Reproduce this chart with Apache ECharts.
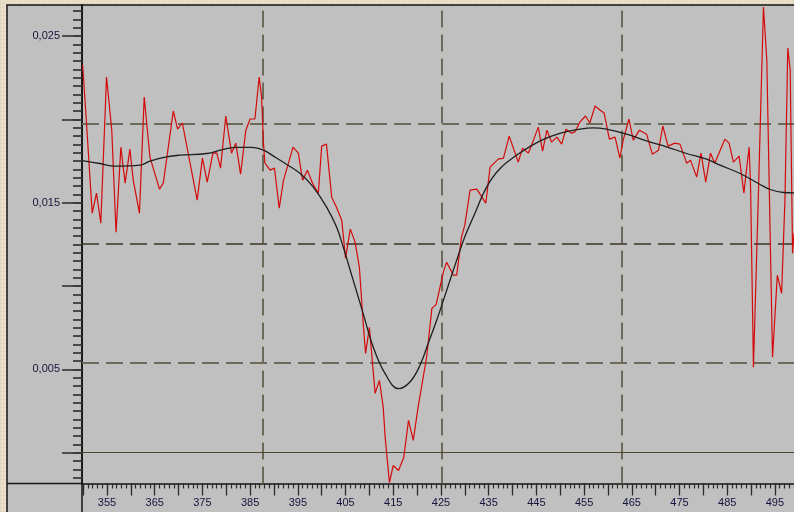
<!DOCTYPE html>
<html>
<head>
<meta charset="utf-8">
<script src="https://cdn.jsdelivr.net/npm/echarts@6/dist/echarts.min.js"></script>
<style>
html,body{margin:0;padding:0;width:794px;height:512px;overflow:hidden;
background-color:#ebe1cc;
background-image:repeating-linear-gradient(90deg,rgba(160,140,100,0.10) 0 1px,transparent 1px 3px),repeating-linear-gradient(0deg,rgba(160,140,100,0.08) 0 1px,transparent 1px 4px);}
#c{position:absolute;left:0;top:0;width:794px;height:512px;}
</style>
</head>
<body>
<div id="c"></div>
<script>
// Wavelength (nm) of the measured (red) spectrum
const redWl = [349.9,350.7,351.9,352.8,353.7,354.9,356.0,356.9,357.9,358.8,
359.8,360.5,361.8,362.8,364.0,366.0,366.8,368.9,369.8,370.8,
373.9,375.0,376.0,377.2,378.0,378.8,379.9,381.1,382.0,383.0,
384.1,385.0,386.0,386.9,387.4,387.8,388.1,389.2,390.1,391.1,
392.0,394.0,395.1,396.0,397.0,398.1,399.3,400.0,401.0,402.1,
403.1,404.2,405.0,406.0,407.0,407.9,408.7,409.2,410.0,411.2,
412.1,412.9,413.3,414.2,415.0,416.1,417.2,418.2,419.2,420.2,
422.0,423.1,424.0,425.5,426.2,427.6,428.3,429.3,430.0,431.1,
432.5,434.4,435.3,437.0,438.1,439.3,441.2,442.1,443.3,444.4,
445.4,446.3,447.2,448.2,449.3,450.3,451.2,452.4,453.1,454.1,
455.3,456.2,457.3,458.3,459.2,460.3,461.5,462.5,463.2,464.4,
465.3,466.6,468.1,469.3,470.6,471.5,472.6,474.0,475.1,476.5,
477.3,478.6,479.5,480.5,481.5,482.4,484.5,485.4,486.3,487.5,
488.5,489.1,489.6,489.9,490.5,491.5,492.6,493.3,494.0,494.5,
495.5,496.4,497.1,497.7,498.2,498.7,499.0];
const redVals = [0.02326,0.01978,0.01437,0.01557,0.01377,0.02254,0.01935,0.01323,0.01833,0.01617,
0.01821,0.01635,0.01437,0.02134,0.01773,0.01581,0.01617,0.0205,0.01941,0.01978,
0.01515,0.01767,0.01623,0.01797,0.01799,0.01707,0.0202,0.01797,0.01857,0.01671,
0.01935,0.02002,0.02002,0.02254,0.02134,0.01857,0.01737,0.01695,0.01707,0.01467,
0.01635,0.01833,0.01797,0.01635,0.01695,0.01615,0.01557,0.01839,0.01851,0.01533,
0.01473,0.01395,0.01167,0.01341,0.01263,0.01113,0.00776,0.00596,0.00752,0.00356,
0.00434,0.00272,0.00093,-0.00179,-0.00077,-0.00107,-0.00029,0.00194,0.00074,0.00272,
0.00574,0.00866,0.0089,0.01083,0.01143,0.01065,0.01065,0.01293,0.01365,0.01575,
0.01581,0.01497,0.01713,0.01761,0.01767,0.01899,0.01743,0.01827,0.01797,0.01875,
0.01953,0.01809,0.01935,0.01863,0.01893,0.01851,0.01941,0.01917,0.01925,0.01983,
0.0202,0.01978,0.0208,0.02056,0.02038,0.01881,0.01893,0.01767,0.01875,0.02002,
0.01875,0.01935,0.01911,0.01791,0.01815,0.0196,0.01839,0.01857,0.01851,0.01737,
0.01755,0.01653,0.01797,0.01623,0.01797,0.01737,0.01881,0.01857,0.01743,0.01779,
0.01557,0.01713,0.01833,0.01593,0.00512,0.01515,0.02674,0.02356,0.01317,0.00572,
0.01065,0.00956,0.01515,0.02428,0.02296,0.01197,0.01317];

// Smoothed (black) curve
const blackWl = [349.8,353.5,356.7,361.9,364.0,367.5,370.3,375.9,379.4,382.2,
385.3,387.8,389.9,392.7,395.5,398.2,401.0,403.1,404.5,406.6,
408.7,410.8,413.3,416.1,418.5,420.6,422.3,424.1,426.2,428.3,
430.0,431.8,434.6,437.4,441.6,445.8,449.9,454.1,456.9,459.7,
463.9,468.1,472.3,476.5,480.7,483.5,487.7,491.9,494.0,496.8,499.0];
const blackVals = [0.01752,0.01735,0.01719,0.01725,0.01749,0.01775,0.01785,0.01795,0.0182,0.01832,
0.01832,0.01815,0.01779,0.01729,0.01675,0.01595,0.01475,0.01355,0.01235,0.01035,
0.00834,0.00634,0.00474,0.00384,0.00424,0.00524,0.00654,0.00794,0.00974,0.01155,
0.01295,0.01415,0.01595,0.01705,0.01799,0.01871,0.01916,0.01941,0.01949,0.01941,
0.01911,0.01871,0.01835,0.01795,0.01761,0.01725,0.01675,0.01609,0.01579,0.01561,0.01559];

// Axis labels / ticks
const xLabels = [355,365,375,385,395,405,415,425,435,445,455,465,475,485,495];
const yLabels = [0.005,0.015,0.025];
// Reference grid lines of the instrument display
const vGrid = [387.6,425.2,463.0];
const hGridDashed = [0.01971,0.01255,0.00538];
const hGridSolid = [0];

const xMin = 349.76, xMax = 499.0, yMin = -0.00185, yMax = 0.02686;

const xMajorTicks = []; for (let v = 350; v <= 495; v += 5) xMajorTicks.push(v);
const xMinorTicks = []; for (let v = 350; v <= 499; v += 1) xMinorTicks.push(v);
const yMajorTicks = []; for (let i = 0; i <= 5; i++) yMajorTicks.push(+(i*0.005).toFixed(4));
const yMinorTicks = []; for (let i = -3; i <= 53; i++) yMinorTicks.push(+(i*0.0005).toFixed(5));

const chart = echarts.init(document.getElementById('c'), null, {renderer:'canvas'});
const tickCol = '#2a2a2a';
const labelFont = {fontFamily:'Liberation Sans, Arial, sans-serif', fontSize:11, color:'#14143c'};

const markLineData = [];
vGrid.forEach(v => markLineData.push([
  {coord:[v, yMin], lineStyle:{color:'#6e6a5a', width:2, type:[17,7]}},
  {coord:[v, yMax]}]));
hGridDashed.forEach((v,i) => markLineData.push([
  {coord:[xMin, v], lineStyle:{color: i===1 ? '#3a3526' : '#6e6a5a', width: i===1 ? 1.5 : 2, type:[17,7]}},
  {coord:[xMax, v]}]));
hGridSolid.forEach(v => markLineData.push([
  {coord:[xMin, v], lineStyle:{color:'#4d4632', width:1.2, type:'solid'}},
  {coord:[xMax, v]}]));

chart.setOption({
  animation:false,
  backgroundColor:'transparent',
  graphic:[
    {type:'rect', z:-10, shape:{x:7,y:5,width:800,height:520}, style:{fill:'#c0c0c0', stroke:'#151515', lineWidth:1.5}},
    {type:'line', z:10, shape:{x1:7,y1:483.5,x2:82,y2:483.5}, style:{stroke:'#151515', lineWidth:1.5}},
    {type:'line', z:10, shape:{x1:82,y1:483,x2:82,y2:512}, style:{stroke:'#151515', lineWidth:1.5}}
  ],
  grid:{left:82, top:5, right:0, bottom:28.5, containLabel:false},
  xAxis:[
    {type:'value', min:xMin, max:xMax, position:'bottom',
     axisLine:{show:true, onZero:false, lineStyle:{color:'#151515', width:1.5}},
     axisTick:{show:true, customValues:xMajorTicks, length:12, lineStyle:{color:tickCol, width:1.3}},
     axisLabel:{show:true, customValues:xLabels, margin:14, ...labelFont},
     splitLine:{show:false}},
    {type:'value', min:xMin, max:xMax, position:'bottom',
     axisLine:{show:false, onZero:false},
     axisTick:{show:true, customValues:xMinorTicks, length:5, lineStyle:{color:tickCol, width:1.2}},
     axisLabel:{show:false}, splitLine:{show:false}}
  ],
  yAxis:[
    {type:'value', min:yMin, max:yMax, position:'left',
     axisLine:{show:true, onZero:false, lineStyle:{color:'#1a1a1a', width:2}},
     axisTick:{show:true, customValues:yMajorTicks, length:20, lineStyle:{color:tickCol, width:1.5}},
     axisLabel:{show:true, customValues:yLabels, margin:22, formatter:v => v.toFixed(3).replace('.',','), ...labelFont},
     splitLine:{show:false}},
    {type:'value', min:yMin, max:yMax, position:'left',
     axisLine:{show:false, onZero:false},
     axisTick:{show:true, customValues:yMinorTicks, length:9, lineStyle:{color:'#3a3a3a', width:1.8}},
     axisLabel:{show:false}, splitLine:{show:false}}
  ],
  series:[
    {type:'line', name:'measured', xAxisIndex:0, yAxisIndex:0, showSymbol:false, z:3,
     data: redWl.map((w,i)=>[w, redVals[i]]),
     lineStyle:{color:'#d40a0a', width:1.2},
     markLine:{silent:true, symbol:['none','none'], label:{show:false}, animation:false, z:1, data:markLineData}},
    {type:'line', name:'smoothed', xAxisIndex:0, yAxisIndex:0, showSymbol:false, z:4, smooth:0.4,
     data: blackWl.map((w,i)=>[w, blackVals[i]]),
     lineStyle:{color:'#1e1e1e', width:1.3}}
  ]
});
</script>
</body>
</html>
